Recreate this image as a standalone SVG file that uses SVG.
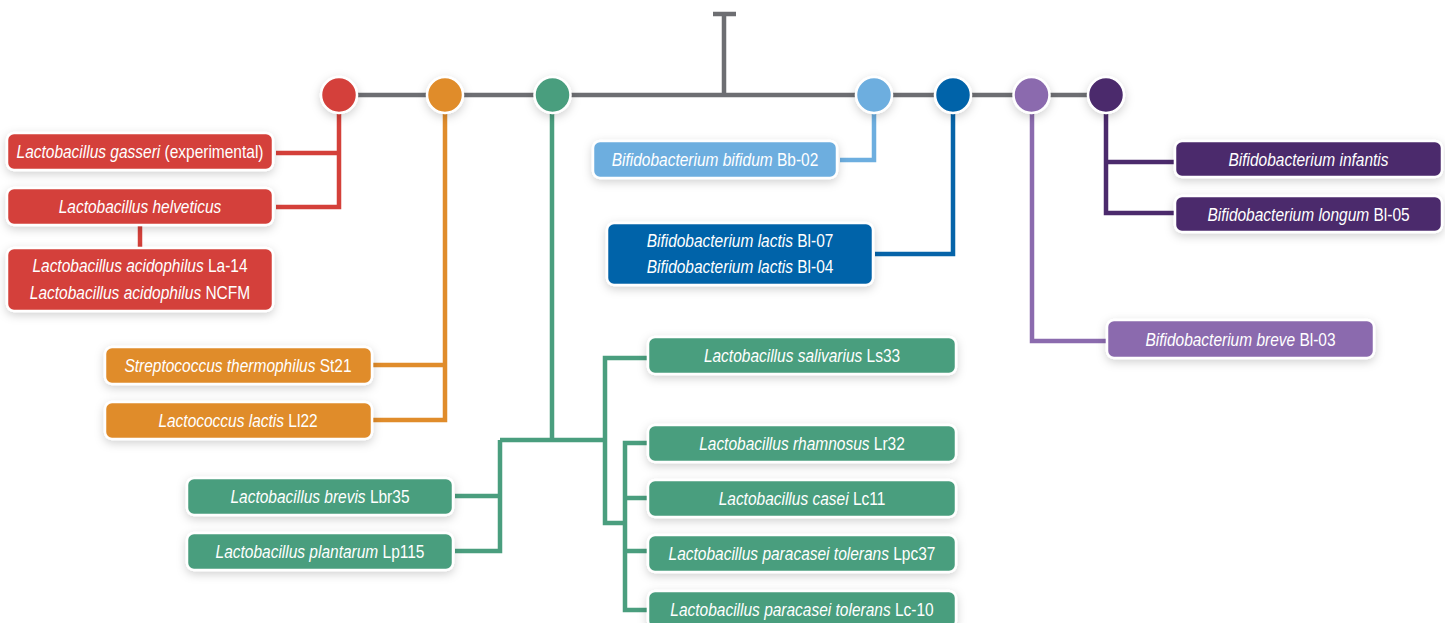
<svg xmlns="http://www.w3.org/2000/svg" width="1445" height="623" viewBox="0 0 1445 623">
<defs>
<style>
.lbl{font-family:"Liberation Sans",Arial,sans-serif;font-size:19px;fill:#fff;text-anchor:middle;}
.it{font-style:italic;}
.box{stroke:#fff;stroke-width:2.5;filter:url(#sh);}
.dot{stroke:#fff;stroke-width:2.5;filter:url(#sh);}
.ln{fill:none;stroke-width:4.5;stroke-linejoin:miter;stroke-linecap:butt;}
.red{fill:#D4403A;} .ora{fill:#E08C2B;} .grn{fill:#4A9E7E;} .lbl1{fill:#6DAEDF;} .blu{fill:#0664A9;} .pur{fill:#8B6BAE;} .dpu{fill:#4B2A6C;}
</style>
<filter id="sh" x="-30%" y="-60%" width="160%" height="220%">
<feDropShadow dx="0" dy="3" stdDeviation="5" flood-color="#000" flood-opacity="0.18"/>
</filter>
</defs>
<rect width="1445" height="623" fill="#fff"/>
<g id="connectors">
<path class="ln" stroke="#6D6E72" stroke-width="4" d="M339,95 H1106 M724,95 V14 M713,14 H736"/>
<path class="ln" stroke="#D4403A" d="M339,95 V207 H276 M276,153 H339"/>
<path class="ln" stroke="#D4403A" stroke-width="5" d="M140,225 V248"/>
<path class="ln" stroke="#E08C2B" d="M445,95 V420 H373 M373,365 H445"/>
<path class="ln" stroke="#4A9E7E" d="M552,95 V440 M500,440 H605 M500,440 V551 H455 M455,496 H500 M648,358 H605 V523 H625 M648,443 H625 V610 H648 M625,498 H648 M625,551 H648"/>
<path class="ln" stroke="#6DAEDF" d="M874,95 V160 H840"/>
<path class="ln" stroke="#0664A9" d="M953,95 V254 H875"/>
<path class="ln" stroke="#8B6BAE" d="M1032,95 V341 H1107"/>
<path class="ln" stroke="#4B2A6C" d="M1106,95 V213 H1175 M1106,162 H1175"/>
</g>
<g id="hubs">
<circle id="hub-red" class="dot red" cx="339" cy="95" r="18"/>
<circle id="hub-orange" class="dot ora" cx="445" cy="95" r="18"/>
<circle id="hub-green" class="dot grn" cx="552.5" cy="95" r="18"/>
<circle id="hub-lightblue" class="dot lbl1" cx="874" cy="95" r="18"/>
<circle id="hub-blue" class="dot blu" cx="953" cy="95" r="18"/>
<circle id="hub-purple" class="dot pur" cx="1031.5" cy="95" r="18"/>
<circle id="hub-darkpurple" class="dot dpu" cx="1106" cy="95" r="18"/>
</g>
<g id="n-gasseri"><rect class="box red" x="7" y="133" width="266" height="37" rx="7"/>
<text class="lbl" transform="translate(140,158) scale(0.815,1)"><tspan class="it">Lactobacillus gasseri</tspan> (experimental)</text></g>
<g id="n-helveticus"><rect class="box red" x="7" y="188" width="266" height="37" rx="7"/>
<text class="lbl" transform="translate(140,213) scale(0.815,1)"><tspan class="it">Lactobacillus helveticus</tspan></text></g>
<g id="n-acidophilus"><rect class="box red" x="7" y="248" width="266" height="63" rx="7"/>
<text class="lbl" transform="translate(140,272) scale(0.815,1)"><tspan class="it">Lactobacillus acidophilus</tspan> La-14</text>
<text class="lbl" transform="translate(140,299) scale(0.815,1)"><tspan class="it">Lactobacillus acidophilus</tspan> NCFM</text></g>
<g id="n-st21"><rect class="box ora" x="105" y="347" width="267" height="37" rx="7"/>
<text class="lbl" transform="translate(238,372) scale(0.815,1)"><tspan class="it">Streptococcus thermophilus</tspan> St21</text></g>
<g id="n-ll22"><rect class="box ora" x="105" y="402" width="267" height="37" rx="7"/>
<text class="lbl" transform="translate(238,427) scale(0.815,1)"><tspan class="it">Lactococcus lactis</tspan> Ll22</text></g>
<g id="n-lbr35"><rect class="box grn" x="187" y="478" width="266" height="37" rx="7"/>
<text class="lbl" transform="translate(320,503) scale(0.815,1)"><tspan class="it">Lactobacillus brevis</tspan> Lbr35</text></g>
<g id="n-lp115"><rect class="box grn" x="187" y="533" width="266" height="37" rx="7"/>
<text class="lbl" transform="translate(320,558) scale(0.815,1)"><tspan class="it">Lactobacillus plantarum</tspan> Lp115</text></g>
<g id="n-ls33"><rect class="box grn" x="648" y="337" width="308" height="37" rx="7"/>
<text class="lbl" transform="translate(802,362) scale(0.815,1)"><tspan class="it">Lactobacillus salivarius</tspan> Ls33</text></g>
<g id="n-lr32"><rect class="box grn" x="648" y="425" width="308" height="37" rx="7"/>
<text class="lbl" transform="translate(802,450) scale(0.815,1)"><tspan class="it">Lactobacillus rhamnosus</tspan> Lr32</text></g>
<g id="n-lc11"><rect class="box grn" x="648" y="480" width="308" height="37" rx="7"/>
<text class="lbl" transform="translate(802,505) scale(0.815,1)"><tspan class="it">Lactobacillus casei</tspan> Lc11</text></g>
<g id="n-lpc37"><rect class="box grn" x="648" y="535" width="308" height="37" rx="7"/>
<text class="lbl" transform="translate(802,560) scale(0.815,1)"><tspan class="it">Lactobacillus paracasei tolerans</tspan> Lpc37</text></g>
<g id="n-lc10"><rect class="box grn" x="648" y="591" width="308" height="37" rx="7"/>
<text class="lbl" transform="translate(802,616) scale(0.815,1)"><tspan class="it">Lactobacillus paracasei tolerans</tspan> Lc-10</text></g>
<g id="n-bb02"><rect class="box lbl1" x="593" y="141" width="244" height="37" rx="7"/>
<text class="lbl" transform="translate(715,166) scale(0.815,1)"><tspan class="it">Bifidobacterium bifidum</tspan> Bb-02</text></g>
<g id="n-bl07"><rect class="box blu" x="607" y="223" width="266" height="62" rx="7"/>
<text class="lbl" transform="translate(740,246.5) scale(0.815,1)"><tspan class="it">Bifidobacterium lactis</tspan> Bl-07</text>
<text class="lbl" transform="translate(740,273) scale(0.815,1)"><tspan class="it">Bifidobacterium lactis</tspan> Bl-04</text></g>
<g id="n-bl03"><rect class="box pur" x="1107" y="320" width="267" height="38" rx="7"/>
<text class="lbl" transform="translate(1240.5,345.5) scale(0.815,1)"><tspan class="it">Bifidobacterium breve</tspan> Bl-03</text></g>
<g id="n-infantis"><rect class="box dpu" x="1175" y="141" width="267" height="36" rx="7"/>
<text class="lbl" transform="translate(1308.5,165.5) scale(0.815,1)"><tspan class="it">Bifidobacterium infantis</tspan></text></g>
<g id="n-longum"><rect class="box dpu" x="1175" y="196" width="267" height="36" rx="7"/>
<text class="lbl" transform="translate(1308.5,220.5) scale(0.815,1)"><tspan class="it">Bifidobacterium longum</tspan> Bl-05</text></g>
</svg>
